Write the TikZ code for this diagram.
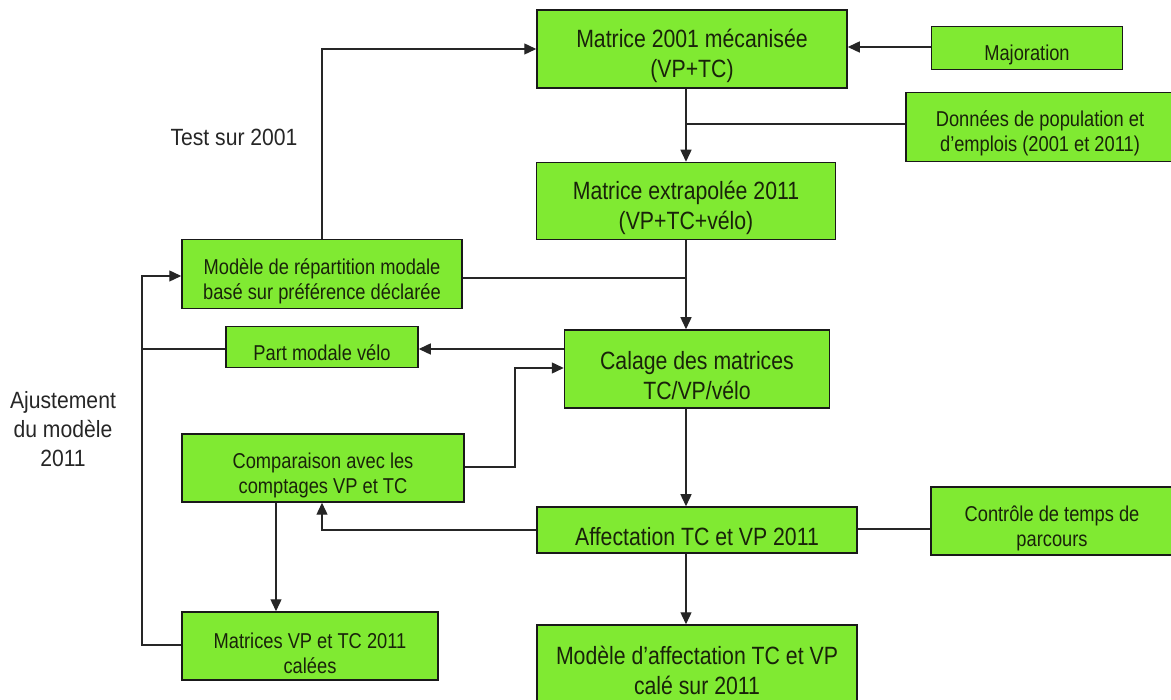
\documentclass[tikz,border=0pt]{standalone}
\usepackage{fontspec}
\setmainfont{Liberation Sans}
\newfontfamily\condfont[FakeStretch=0.85]{Liberation Sans}
\newfontfamily\lblfont[FakeStretch=0.9]{Liberation Sans}
\usetikzlibrary{arrows.meta}
\definecolor{boxgreen}{RGB}{128,234,50}
\definecolor{txt}{RGB}{25,35,10}
\tikzset{
  box/.style={draw=black!90, line width=1.5pt, fill=boxgreen, inner sep=0pt},
  smalltext/.style={inner sep=0pt, align=center, text=txt, font=\condfont\fontsize{21.5}{25}\selectfont},
  bigtext/.style={inner sep=0pt, align=center, text=txt, font=\condfont\fontsize{25}{30}\selectfont},
  conn/.style={line width=1.4pt, draw=black!85},
  arr/.style={conn, -{Triangle[length=12pt, width=11pt]}},
  lbl/.style={font=\lblfont\fontsize{23.5}{29}\selectfont, align=center, text=black!85}
}
\begin{document}
\begin{tikzpicture}[x=1pt, y=-1pt]
\useasboundingbox (0,0) rectangle (1171,700);

\node[box, minimum width=310pt, minimum height=78pt] (m01) at (692,49) {};
\node[box, minimum width=191pt, minimum height=43pt] (maj) at (1027,48) {};
\node[box, minimum width=268pt, minimum height=69pt] (don) at (1040,127) {};
\node[box, minimum width=299pt, minimum height=77pt] (mex) at (686,201) {};
\node[box, minimum width=280pt, minimum height=69pt] (rep) at (322,274) {};
\node[box, minimum width=192pt, minimum height=41pt] (pmv) at (322,347) {};
\node[box, minimum width=265pt, minimum height=78pt] (cal) at (697,369) {};
\node[box, minimum width=282pt, minimum height=68pt] (cmp) at (323,468) {};
\node[box, minimum width=320pt, minimum height=46pt] (aff) at (697,530) {};
\node[box, minimum width=242pt, minimum height=68pt] (ctl) at (1052,521) {};
\node[box, minimum width=256pt, minimum height=68pt] (mvp) at (310,646) {};
\node[box, minimum width=320pt, minimum height=78pt] (maf) at (697,664) {};

\node[bigtext] (m01t) at ([yshift=-7pt]m01.center) {Matrice 2001 mécanisée\\(VP+TC)};
\node[smalltext] (majt) at ([yshift=-7pt]maj.center) {Majoration};
\node[smalltext] (dont) at ([yshift=-6pt]don.center) {Données de population et\\d’emplois (2001 et 2011)};
\node[bigtext] (mext) at ([yshift=-7pt]mex.center) {Matrice extrapolée 2011\\(VP+TC+vélo)};
\node[smalltext] (rept) at ([yshift=-7pt]rep.center) {Modèle de répartition modale\\basé sur préférence déclarée};
\node[smalltext] (pmvt) at ([yshift=-6pt]pmv.center) {Part modale vélo};
\node[bigtext] (calt) at ([yshift=-7pt]cal.center) {Calage des matrices\\TC/VP/vélo};
\node[smalltext] (cmpt) at ([yshift=-7pt]cmp.center) {Comparaison avec les\\comptages VP et TC};
\node[bigtext] (afft) at ([yshift=-7pt]aff.center) {Affectation TC et VP 2011};
\node[smalltext] (ctlt) at ([yshift=-7pt]ctl.center) {Contrôle de temps de\\parcours};
\node[smalltext] (mvpt) at ([yshift=-7pt]mvp.center) {Matrices VP et TC 2011\\calées};
\node[bigtext] (maft) at ([yshift=-6pt]maf.center) {Modèle d’affectation TC et VP\\calé sur 2011};

\node[lbl] (test) at (234,137) {Test sur 2001};
\node[lbl] (ajust) at (63,429) {Ajustement\\du modèle\\2011};

\coordinate (jA) at (686,124);
\coordinate (jB) at (686,278);
\coordinate (left) at (142,349);

% Majoration -> Matrice 2001
\draw[arr] (maj.west |- 0,47) -- (m01.east |- 0,47);
% Matrice 2001 -> Matrice extrapolée
\draw[arr] (m01.south -| jA) -- (mex.north -| jA);
\draw[conn] (don.west |- jA) -- (jA);
% Matrice extrapolée -> Calage
\draw[arr] (mex.south -| jB) -- (cal.north -| jB);
\draw[conn] (rep.east |- jB) -- (jB);
% Répartition -> Matrice 2001
\draw[arr] (rep.north) -- (322,49) -- (m01.west |- 0,49);
% Calage -> Part modale
\draw[arr] (cal.west |- 0,349) -- (pmv.east |- 0,349);
% left loop
\draw[conn] (pmv.west |- left) -- (left);
\draw[arr] (mvp.west |- 0,645) -- (142,645) -- (142,276) -- (rep.west |- 0,276);
% Comparaison -> Calage
\draw[arr] (cmp.east |- 0,467) -- (515,467) -- (515,368) -- (cal.west |- 0,368);
% Calage -> Affectation
\draw[arr] (cal.south -| 686,0) -- (aff.north -| 686,0);
% Affectation -> Comparaison
\draw[arr] (aff.west |- 0,530) -- (322,530) -- (cmp.south -| 322,0);
% Contrôle -- Affectation
\draw[conn] (ctl.west |- 0,529) -- (aff.east |- 0,529);
% Comparaison -> Matrices VP
\draw[arr] (cmp.south -| 276,0) -- (mvp.north -| 276,0);
% Affectation -> Modèle d'affectation
\draw[arr] (aff.south -| 686,0) -- (maf.north -| 686,0);
\end{tikzpicture}
\end{document}
